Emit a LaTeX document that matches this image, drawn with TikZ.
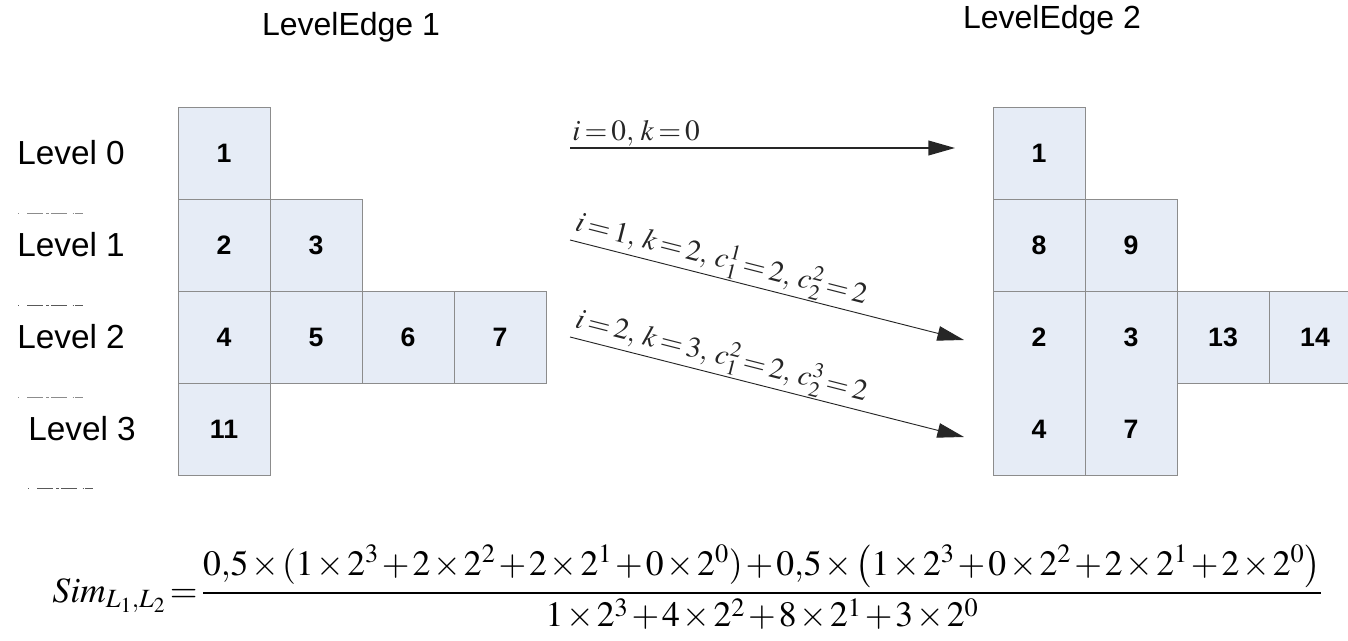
\documentclass[tikz,border=0pt]{standalone}
\usepackage{mathptmx}
\usepackage{fontspec}
\newfontfamily\sansf{Liberation Sans}
\usetikzlibrary{arrows.meta}
\definecolor{cellfill}{HTML}{E6ECF6}
\definecolor{cellline}{HTML}{8C8C8C}
\newcommand{\tightmath}{\thickmuskip=2.5mu\medmuskip=1.5mu}
\begin{document}
\begin{tikzpicture}[
    x=0.75pt, y=-0.75pt,
    cell/.style={rectangle, draw=cellline, fill=cellfill, line width=0.6pt,
                 minimum width=69pt, minimum height=69pt, inner sep=0pt,
                 font=\sansf\bfseries\fontsize{20}{24}\selectfont},
    num/.style={inner sep=0pt, font=\sansf\bfseries\fontsize{20}{24}\selectfont},
    lvl/.style={anchor=west, inner sep=0pt, font=\sansf\fontsize{25}{30}\selectfont},
    ttl/.style={inner sep=0pt, font=\sansf\fontsize{24}{29}\selectfont},
    elbl/.style={inner sep=1pt, font=\fontsize{22}{26}\selectfont\tightmath},
    edge/.style={-{Triangle[length=20pt, width=11pt]}, color=black!85},
    tick/.style={line width=0.6pt, dash pattern=on 1pt off 6pt on 12pt off 2pt on 2pt off 2pt on 12pt off 4pt on 1pt}
  ]
  \useasboundingbox (0,0) rectangle (1348,641);
  \clip (0,0) rectangle (1348,641);
  % Titles
  \node[ttl] (t1) at (351,27) {LevelEdge 1};
  \node[ttl] (t2) at (1052,20) {LevelEdge 2};
  % Level names
  \foreach \r/\x in {0/17,1/17,2/17,3/28}{
    \node[lvl] (lv\r) at (\x,{153+92*\r}) {Level \r};
  }
  \foreach \y/\x/\g in {213/18/45, 305/18/65, 397/18/45, 488/28/65}{
    \draw[tick, black!\g] (\x,\y) -- ++(80,0);
  }
  % Left level edge
  \foreach \c/\r/\t in {0/0/1, 0/1/2, 1/1/3, 0/2/4, 1/2/5, 2/2/6, 3/2/7, 0/3/11}{
    \node[cell] (l\t) at ({224+92*\c},{153+92*\r}) {\t};
  }
  % Right level edge
  \foreach \c/\r/\t in {0/0/1, 0/1/8, 1/1/9, 2/2/13, 3/2/14}{
    \node[cell] (r\t) at ({1039+92*\c},{153+92*\r}) {\t};
  }
  \foreach \c in {0,1}{
    \node[cell, minimum height=138pt] (rc\c) at ({1039+92*\c},383) {};
  }
  \foreach \c/\r/\t in {0/2/2, 1/2/3, 0/3/4, 1/3/7}{
    \node[num] (r\t) at ({1039+92*\c},{153+92*\r}) {\t};
  }
  % Mappings
  \coordinate (a1s) at (570,148);
  \coordinate (a1e) at (955,148);
  \coordinate (a2s) at (570,240);
  \coordinate (a2e) at (964,340);
  \coordinate (a3s) at (570,337);
  \coordinate (a3e) at (964,437);
  \draw[edge, line width=1.4pt] (a1s) -- node[elbl, pos=0, anchor=south west] {$i=0,\,k=0$} (a1e);
  \draw[edge, line width=0.7pt] (a2s) -- node[elbl, sloped, pos=0, anchor=south west]
    {$i=1,\;k=2,\;c_1^1=2,\;c_2^2=2$} (a2e);
  \draw[edge, line width=0.7pt] (a3s) -- node[elbl, sloped, pos=0, anchor=south west]
    {$i=2,\;k=3,\;c_1^2=2,\;c_2^3=2$} (a3e);
  % Similarity
  \node[anchor=base west, inner sep=0pt, font=\fontsize{26.7}{32}\selectfont] (sim) at (52,602)
    {$\displaystyle\medmuskip=1.5mu \thickmuskip=2mu Sim_{L_1,L_2}=\frac{0{,}5\times(1\times2^3+2\times2^2+2\times2^1+0\times2^0)+0{,}5\times\bigl(1\times2^3+0\times2^2+2\times2^1+2\times2^0\bigr)}{1\times2^3+4\times2^2+8\times2^1+3\times2^0}$};
\end{tikzpicture}
\end{document}
